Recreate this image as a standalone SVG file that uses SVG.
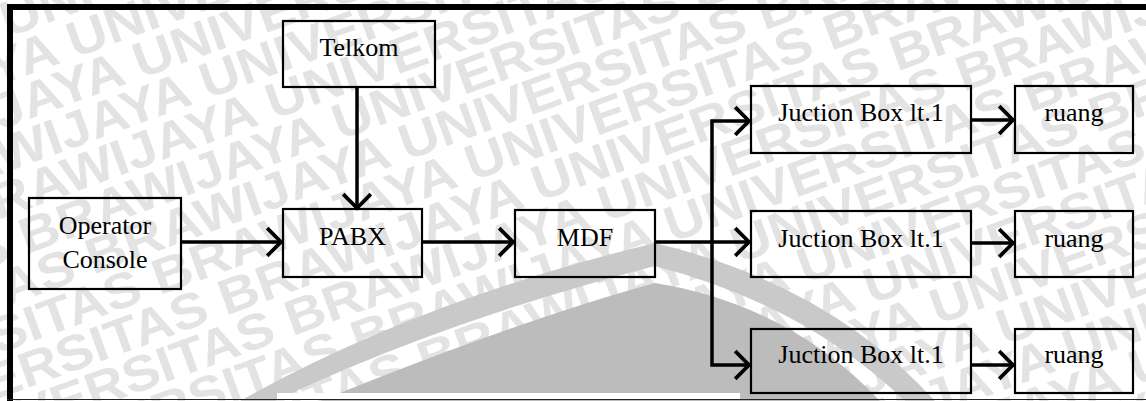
<svg xmlns="http://www.w3.org/2000/svg" width="1146" height="401" viewBox="0 0 1146 401">
  <style>
    .box { fill: none; stroke: #000; stroke-width: 2.2; }
    .lbl { font-family: "Liberation Serif", "Times New Roman", serif; font-size: 26px; fill: #000; text-anchor: middle; }
    .arrow { fill: none; stroke: #000; stroke-width: 3.5; marker-end: url(#chev); }
    .wm { font-family: "Liberation Sans", Arial, sans-serif; font-weight: bold; font-size: 50px; fill: #e3e3e3; }
  </style>
  <defs>
    <marker id="chev" markerUnits="userSpaceOnUse" markerWidth="30" markerHeight="34" viewBox="-16 -16 20 32" refX="0" refY="0" orient="auto">
      <path d="M-13,-13 L0,0 L-13,13" fill="none" stroke="#000" stroke-width="3.5" stroke-linejoin="miter"/>
    </marker>
  </defs>

  <rect width="1146" height="401" fill="#fff"/>

  <!-- background watermark lettering: rows 42px apart, each shifted 55.4px along the baseline -->
  <g id="watermark" transform="rotate(-20)">
    <text class="wm" x="-720" y="38" textLength="2130" lengthAdjust="spacingAndGlyphs">UNIVERSITAS BRAWIJAYA UNIVERSITAS BRAWIJAYA UNIVERSITAS BRAWIJAYA</text>
    <text class="wm" x="-664.6" y="80" textLength="2130" lengthAdjust="spacingAndGlyphs">UNIVERSITAS BRAWIJAYA UNIVERSITAS BRAWIJAYA UNIVERSITAS BRAWIJAYA</text>
    <text class="wm" x="-609.2" y="122" textLength="2130" lengthAdjust="spacingAndGlyphs">UNIVERSITAS BRAWIJAYA UNIVERSITAS BRAWIJAYA UNIVERSITAS BRAWIJAYA</text>
    <text class="wm" x="-553.8" y="164" textLength="2130" lengthAdjust="spacingAndGlyphs">UNIVERSITAS BRAWIJAYA UNIVERSITAS BRAWIJAYA UNIVERSITAS BRAWIJAYA</text>
    <text class="wm" x="-498.5" y="206" textLength="2130" lengthAdjust="spacingAndGlyphs">UNIVERSITAS BRAWIJAYA UNIVERSITAS BRAWIJAYA UNIVERSITAS BRAWIJAYA</text>
    <text class="wm" x="-443.1" y="248" textLength="2130" lengthAdjust="spacingAndGlyphs">UNIVERSITAS BRAWIJAYA UNIVERSITAS BRAWIJAYA UNIVERSITAS BRAWIJAYA</text>
    <text class="wm" x="-387.7" y="290" textLength="2130" lengthAdjust="spacingAndGlyphs">UNIVERSITAS BRAWIJAYA UNIVERSITAS BRAWIJAYA UNIVERSITAS BRAWIJAYA</text>
    <text class="wm" x="-332.3" y="332" textLength="2130" lengthAdjust="spacingAndGlyphs">UNIVERSITAS BRAWIJAYA UNIVERSITAS BRAWIJAYA UNIVERSITAS BRAWIJAYA</text>
    <text class="wm" x="-276.9" y="374" textLength="2130" lengthAdjust="spacingAndGlyphs">UNIVERSITAS BRAWIJAYA UNIVERSITAS BRAWIJAYA UNIVERSITAS BRAWIJAYA</text>
    <text class="wm" x="-221.5" y="416" textLength="2130" lengthAdjust="spacingAndGlyphs">UNIVERSITAS BRAWIJAYA UNIVERSITAS BRAWIJAYA UNIVERSITAS BRAWIJAYA</text>
    <text class="wm" x="-166.2" y="458" textLength="2130" lengthAdjust="spacingAndGlyphs">UNIVERSITAS BRAWIJAYA UNIVERSITAS BRAWIJAYA UNIVERSITAS BRAWIJAYA</text>
    <text class="wm" x="-110.8" y="500" textLength="2130" lengthAdjust="spacingAndGlyphs">UNIVERSITAS BRAWIJAYA UNIVERSITAS BRAWIJAYA UNIVERSITAS BRAWIJAYA</text>
    <text class="wm" x="-55.4" y="542" textLength="2130" lengthAdjust="spacingAndGlyphs">UNIVERSITAS BRAWIJAYA UNIVERSITAS BRAWIJAYA UNIVERSITAS BRAWIJAYA</text>
    <text class="wm" x="0" y="584" textLength="2130" lengthAdjust="spacingAndGlyphs">UNIVERSITAS BRAWIJAYA UNIVERSITAS BRAWIJAYA UNIVERSITAS BRAWIJAYA</text>
    <text class="wm" x="55.4" y="626" textLength="2130" lengthAdjust="spacingAndGlyphs">UNIVERSITAS BRAWIJAYA UNIVERSITAS BRAWIJAYA UNIVERSITAS BRAWIJAYA</text>
    <text class="wm" x="110.8" y="668" textLength="2130" lengthAdjust="spacingAndGlyphs">UNIVERSITAS BRAWIJAYA UNIVERSITAS BRAWIJAYA UNIVERSITAS BRAWIJAYA</text>
    <text class="wm" x="166.2" y="710" textLength="2130" lengthAdjust="spacingAndGlyphs">UNIVERSITAS BRAWIJAYA UNIVERSITAS BRAWIJAYA UNIVERSITAS BRAWIJAYA</text>
    <text class="wm" x="221.5" y="752" textLength="2130" lengthAdjust="spacingAndGlyphs">UNIVERSITAS BRAWIJAYA UNIVERSITAS BRAWIJAYA UNIVERSITAS BRAWIJAYA</text>
    <text class="wm" x="276.9" y="794" textLength="2130" lengthAdjust="spacingAndGlyphs">UNIVERSITAS BRAWIJAYA UNIVERSITAS BRAWIJAYA UNIVERSITAS BRAWIJAYA</text>
  </g>

  <!-- emblem arch -->
  <g id="emblem">
    <path d="M240,401 Q420,300 655,243 Q830,285 935,401 L905,401 Q805,305 655,266 Q440,322 275,401 Z" fill="#c9c9c9"/>
    <path d="M655,283 Q520,320 320,401 L880,401 Q790,305 655,283 Z" fill="#bcbcbc"/>
    <rect x="277" y="393" width="463" height="7" fill="#fff"/>
  </g>

  <!-- page frame -->
  <g id="frame">
    <rect x="7" y="4" width="1139" height="6" fill="#000"/>
    <rect x="7" y="4" width="6" height="397" fill="#000"/>
    <line x1="7" y1="399.5" x2="1146" y2="399.5" stroke="#222" stroke-width="1"/>
  </g>

  <g id="connectors">
    <path class="arrow" d="M357,87 V208"/>
    <path class="arrow" d="M181,242 H281"/>
    <path class="arrow" d="M422,242 H513"/>
    <path class="arrow" d="M655,242 H749"/>
    <path class="arrow" d="M712,244 V121 H749"/>
    <path class="arrow" d="M712,240 V365 H749"/>
    <path class="arrow" d="M971,120 H1013"/>
    <path class="arrow" d="M971,243 H1013"/>
    <path class="arrow" d="M971,365 H1013"/>
  </g>

  <g id="telkom">
    <rect class="box" x="283" y="21" width="152" height="66"/>
    <text class="lbl" x="359" y="56">Telkom</text>
  </g>
  <g id="operator-console">
    <rect class="box" x="29" y="198" width="152" height="91"/>
    <text class="lbl" x="105" y="234">Operator</text>
    <text class="lbl" x="105" y="268">Console</text>
  </g>
  <g id="pabx">
    <rect class="box" x="283" y="209" width="139" height="68"/>
    <text class="lbl" x="352.5" y="245">PABX</text>
  </g>
  <g id="mdf">
    <rect class="box" x="515" y="210" width="140" height="67"/>
    <text class="lbl" x="585" y="246">MDF</text>
  </g>
  <g id="junction-box-1">
    <rect class="box" x="751" y="86" width="220" height="67"/>
    <text class="lbl" x="861" y="121">Juction Box lt.1</text>
  </g>
  <g id="junction-box-2">
    <rect class="box" x="751" y="211" width="220" height="66"/>
    <text class="lbl" x="861" y="247">Juction Box lt.1</text>
  </g>
  <g id="junction-box-3">
    <rect class="box" x="751" y="329" width="220" height="64"/>
    <text class="lbl" x="861" y="363">Juction Box lt.1</text>
  </g>
  <g id="ruang-1">
    <rect class="box" x="1015" y="86" width="118" height="67"/>
    <text class="lbl" x="1074" y="121">ruang</text>
  </g>
  <g id="ruang-2">
    <rect class="box" x="1015" y="211" width="118" height="66"/>
    <text class="lbl" x="1074" y="247">ruang</text>
  </g>
  <g id="ruang-3">
    <rect class="box" x="1015" y="329" width="118" height="64"/>
    <text class="lbl" x="1074" y="363">ruang</text>
  </g>
</svg>
